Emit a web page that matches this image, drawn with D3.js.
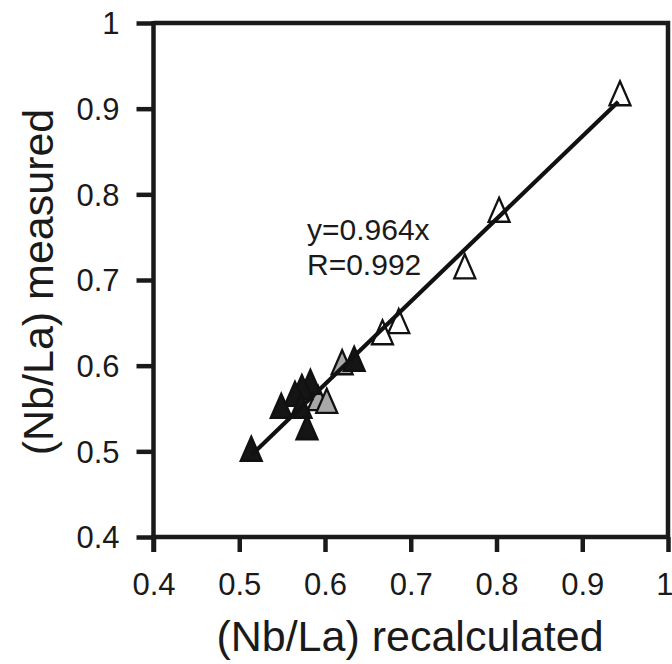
<!DOCTYPE html>
<html>
<head>
<meta charset="utf-8">
<script src="https://cdn.jsdelivr.net/npm/d3@7/dist/d3.min.js"></script>
<style>
  html, body { margin: 0; padding: 0; background: #fff; }
  svg { display: block; }
  text { font-family: "Liberation Sans", Arial, Helvetica, sans-serif; fill: #1a1a1a; }
</style>
</head>
<body>
<svg id="chart" width="672" height="664"></svg>
<script>
// ---- data ----
const openX  = [0.944, 0.803, 0.763, 0.686, 0.667];
const openY  = [0.918, 0.782, 0.716, 0.652, 0.639];
const grayX  = [0.620, 0.592, 0.602];
const grayY  = [0.604, 0.562, 0.559];
const blackX = [0.634, 0.583, 0.573, 0.565, 0.549, 0.572, 0.579, 0.514];
const blackY = [0.608, 0.581, 0.575, 0.567, 0.553, 0.553, 0.528, 0.503];
const slope = 0.964;
const fitRange = [0.514, 0.942];
const xTicks = [0.4, 0.5, 0.6, 0.7, 0.8, 0.9, 1];
const yTicks = [0.4, 0.5, 0.6, 0.7, 0.8, 0.9, 1];
const xTitle = "(Nb/La) recalculated";
const yTitle = "(Nb/La) measured";
const eqLines = ["y=0.964x", "R=0.992"];

// ---- layout ----
const svg = d3.select("#chart");
const L = 153.5, R = 668, T = 23, B = 537;
const x = d3.scaleLinear().domain([0.4, 1]).range([L, R]);
const y = d3.scaleLinear().domain([0.4, 1]).range([B, T]);
const fmt = d => (d === 1 ? "1" : d3.format(".1f")(d));

// frame (top and right)
svg.append("path")
  .attr("d", `M${L},${T} H${R} V${B}`)
  .attr("fill", "none").attr("stroke", "#1a1a1a").attr("stroke-width", 4.5);

// axes
const xAxis = d3.axisBottom(x).tickValues(xTicks).tickFormat(fmt).tickSizeInner(15).tickSizeOuter(0).tickPadding(21);
const yAxis = d3.axisLeft(y).tickValues(yTicks).tickFormat(fmt).tickSizeInner(17).tickSizeOuter(0).tickPadding(17);

const gx = svg.append("g").attr("transform", `translate(0,${B})`).call(xAxis);
const gy = svg.append("g").attr("transform", `translate(${L},0)`).call(yAxis);
[gx, gy].forEach(g => {
  g.select(".domain").attr("stroke", "#1a1a1a").attr("stroke-width", 4.5);
  g.selectAll(".tick line").attr("stroke", "#1a1a1a").attr("stroke-width", 4.5);
  g.selectAll(".tick text").attr("font-size", 31).attr("fill", "#1a1a1a")
    .style("font-family", '"Liberation Sans", Arial, sans-serif');
});
gy.selectAll(".tick text").attr("dy", "0.35em");
gx.selectAll(".tick text").attr("dy", "0.71em");
// keep the last x label inside the picture
gx.selectAll(".tick text").filter(d => d === 1).attr("text-anchor", "end").attr("x", 5);
// extend the domains through the corner
gx.select(".domain").attr("d", `M${L - 2},0 H${R + 2}`);
gy.select(".domain").attr("d", `M0,${T - 2} V${B + 15}`);

// symbols
const tri = "M0,-12 L10.5,12 L-10.5,12 Z";
function drawSet(xs, ys, fill) {
  svg.append("g").selectAll("path")
    .data(xs.map((v, i) => [v, ys[i]]))
    .join("path")
    .attr("d", tri)
    .attr("transform", d => `translate(${x(d[0])},${y(d[1])})`)
    .attr("fill", fill)
    .attr("stroke", "#111")
    .attr("stroke-width", 2.3)
    .attr("stroke-linejoin", "miter");
}
drawSet(openX, openY, "#ffffff");
drawSet(grayX, grayY, "#a8a8a8");
drawSet(blackX, blackY, "#151515");

// regression line
const line = d3.line().x(d => x(d)).y(d => y(slope * d));
svg.append("path")
  .attr("d", line(fitRange))
  .attr("fill", "none").attr("stroke", "#111").attr("stroke-width", 4.2);

// equation text
svg.append("text").attr("x", 307).attr("y", 240).attr("font-size", 30).text(eqLines[0]);
svg.append("text").attr("x", 307).attr("y", 275).attr("font-size", 30).text(eqLines[1]);

// axis titles
svg.append("text").attr("x", 410).attr("y", 651).attr("text-anchor", "middle")
  .attr("font-size", 43).text(xTitle);
svg.append("text").attr("transform", "translate(53,282) rotate(-90)")
  .attr("text-anchor", "middle").attr("font-size", 43).text(yTitle);
</script>
</body>
</html>
